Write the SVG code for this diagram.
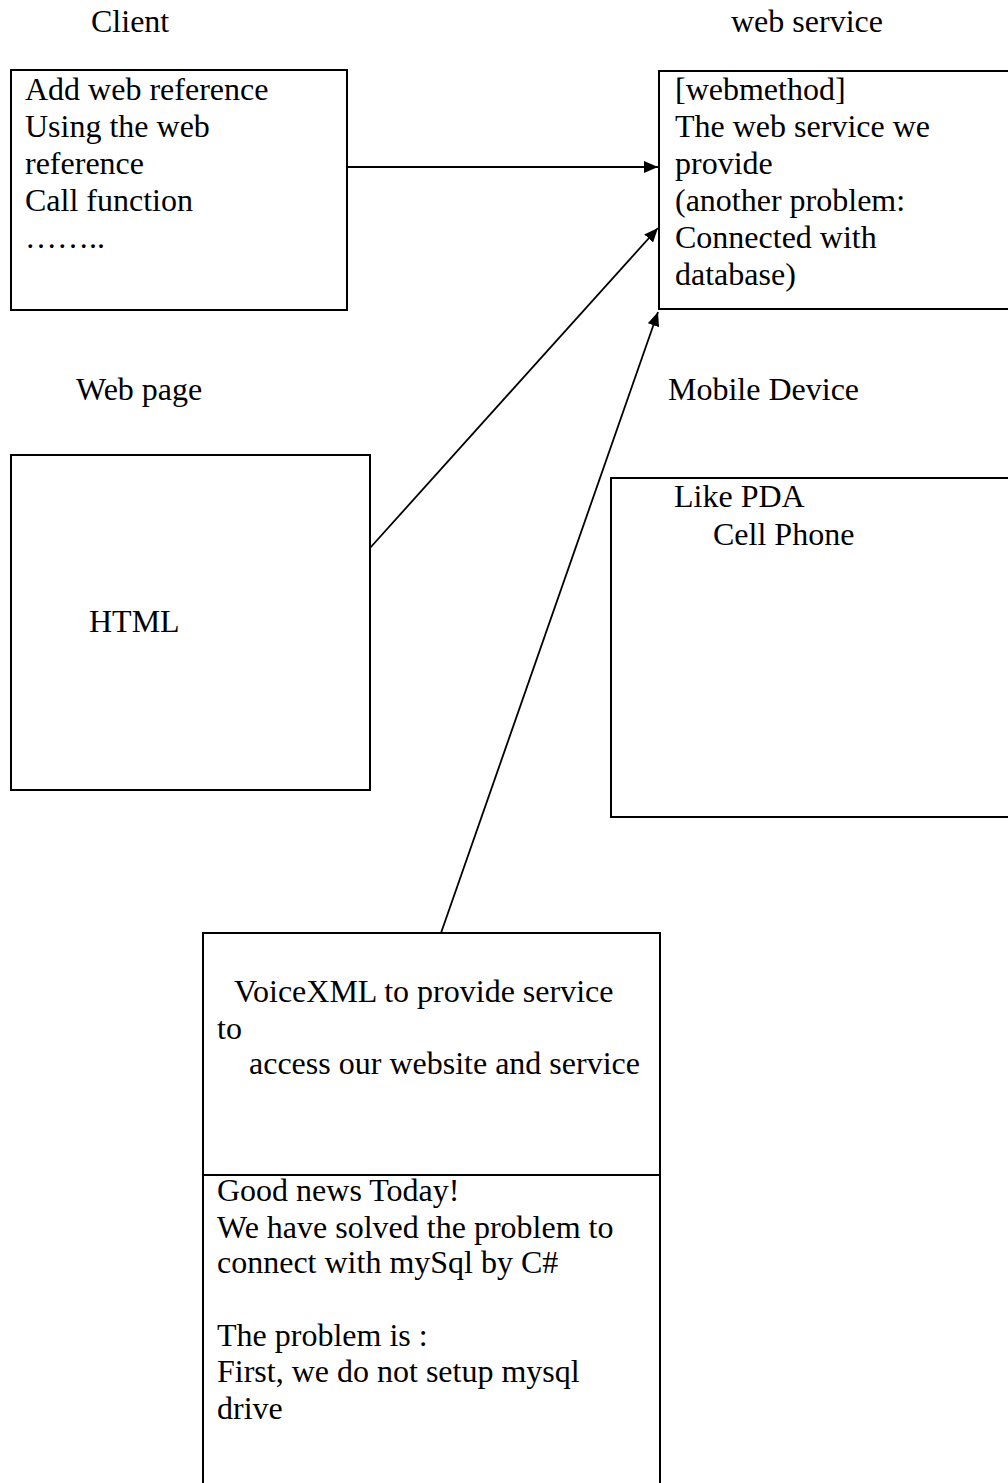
<svg xmlns="http://www.w3.org/2000/svg" width="1008" height="1483" viewBox="0 0 1008 1483">
<defs>
<style>
text{font-family:"Liberation Serif","Times New Roman",serif;font-size:32px;fill:#000}
.box{fill:none;stroke:#000;stroke-width:2}
.conn{fill:none;stroke:#000;stroke-width:1.8}
</style>
<marker id="ah" viewBox="0 0 14 12" refX="14" refY="6" markerWidth="14" markerHeight="12" markerUnits="userSpaceOnUse" orient="auto">
<path d="M0,0 L14,6 L0,12 z" fill="#000"/>
</marker>
</defs>
<rect width="1008" height="1483" fill="#fff"/>
<g id="labels">
<text x="91" y="32">Client</text>
<text x="731" y="32">web service</text>
<text x="76" y="400">Web page</text>
<text x="668" y="400">Mobile Device</text>
</g>
<g id="client">
<rect class="box" x="11" y="70" width="336" height="240"/>
<text x="25" y="100">Add web reference</text>
<text x="25" y="137">Using the web</text>
<text x="25" y="174">reference</text>
<text x="25" y="211">Call function</text>
<text x="25" y="248">……..</text>
</g>
<g id="webservice">
<rect class="box" x="659" y="71" width="360" height="238"/>
<text x="675" y="100">[webmethod]</text>
<text x="675" y="137">The web service we</text>
<text x="675" y="174">provide</text>
<text x="675" y="211">(another problem:</text>
<text x="675" y="248">Connected with</text>
<text x="675" y="285">database)</text>
</g>
<g id="webpage">
<rect class="box" x="11" y="455" width="359" height="335"/>
<text x="89" y="632">HTML</text>
</g>
<g id="mobile">
<rect class="box" x="611" y="478" width="410" height="339"/>
<text x="674" y="507">Like PDA</text>
<text x="713" y="545">Cell Phone</text>
</g>
<g id="voicexml">
<rect class="box" x="203" y="933" width="457" height="570"/>
<line class="box" x1="203" y1="1175" x2="660" y2="1175"/>
<text x="234" y="1002">VoiceXML to provide service</text>
<text x="217" y="1039">to</text>
<text x="249" y="1074">access our website and service</text>
<text x="217" y="1201">Good news Today!</text>
<text x="217" y="1238">We have solved the problem to</text>
<text x="217" y="1273">connect with mySql by C#</text>
<text x="217" y="1346">The problem is :</text>
<text x="217" y="1382">First, we do not setup mysql</text>
<text x="217" y="1419">drive</text>
</g>
<g id="connectors">
<line class="conn" x1="347" y1="167" x2="658" y2="167" marker-end="url(#ah)"/>
<line class="conn" x1="370" y1="548" x2="658" y2="228" marker-end="url(#ah)"/>
<line class="conn" x1="441" y1="933" x2="658" y2="312" marker-end="url(#ah)"/>
</g>
</svg>
